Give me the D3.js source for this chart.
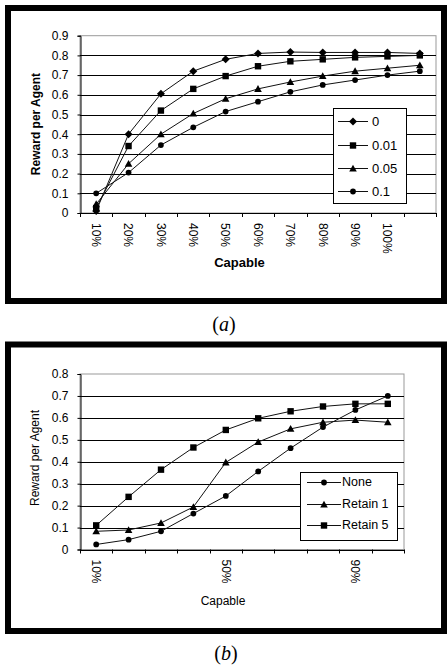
<!DOCTYPE html>
<html>
<head>
<meta charset="utf-8">
<script src="https://cdn.jsdelivr.net/npm/d3@7"></script>
<style>
  body { margin: 0; background: #fff; }
  svg { display: block; font-family: "Liberation Sans", Arial, sans-serif; }
</style>
</head>
<body>
<div id="chart"></div>
<script>
// DATA
// chart (a): reward per agent vs capable, by noise level
const capA = ["10%", "20%", "30%", "40%", "50%", "60%", "70%", "80%", "90%", "100%", ""];
const namesA = ["0", "0.01", "0.05", "0.1"];
const a0   = [0.01, 0.40, 0.605, 0.72, 0.78, 0.81, 0.817, 0.815, 0.815, 0.815, 0.81];
const a001 = [0.025, 0.34, 0.52, 0.63, 0.695, 0.745, 0.77, 0.78, 0.79, 0.795, 0.80];
const a005 = [0.045, 0.25, 0.40, 0.505, 0.58, 0.63, 0.665, 0.695, 0.72, 0.735, 0.75];
const a01  = [0.10, 0.205, 0.345, 0.435, 0.515, 0.565, 0.615, 0.65, 0.675, 0.70, 0.72];
const yTicksA = [0, 0.1, 0.2, 0.3, 0.4, 0.5, 0.6, 0.7, 0.8, 0.9];

// chart (b): reward per agent vs capable, by retention
const capB = ["10%", "20%", "30%", "40%", "50%", "60%", "70%", "80%", "90%", "100%"];
const namesB = ["None", "Retain 1", "Retain 5"];
const bNone = [0.023, 0.045, 0.083, 0.164, 0.244, 0.356, 0.462, 0.558, 0.636, 0.70];
const bRet1 = [0.083, 0.089, 0.121, 0.194, 0.397, 0.49, 0.55, 0.58, 0.59, 0.58];
const bRet5 = [0.11, 0.24, 0.364, 0.465, 0.545, 0.598, 0.63, 0.652, 0.664, 0.664];
const yTicksB = [0, 0.1, 0.2, 0.3, 0.4, 0.5, 0.6, 0.7, 0.8];

// marker shapes
const markers = {
  diamond: "M0,-4L4,0L0,4L-4,0Z",
  square: "M-3.2,-3.2H3.2V3.2H-3.2Z",
  triangle: "M0,-3.8L3.8,3L-3.8,3Z",
  circle: d3.symbol(d3.symbolCircle, 26)()
};

const svg = d3.select("#chart").append("svg")
  .attr("width", 447)
  .attr("height", 668);

svg.append("rect").attr("width", 447).attr("height", 668).attr("fill", "#fff");

function drawChart(cfg) {
  const g = svg.append("g");

  // thick black frame
  g.append("rect")
    .attr("x", cfg.frame[0]).attr("y", cfg.frame[1])
    .attr("width", cfg.frame[2]).attr("height", cfg.frame[3])
    .attr("fill", "none").attr("stroke", "#000").attr("stroke-width", 6);

  const x = d3.scaleBand()
    .domain(d3.range(cfg.cats.length))
    .range([cfg.left, cfg.right])
    .padding(0);

  const y = d3.scaleLinear()
    .domain([0, d3.max(cfg.yTicks)])
    .range([cfg.bottom, cfg.top]);

  // plot border
  g.append("rect")
    .attr("x", cfg.left).attr("y", cfg.top)
    .attr("width", cfg.right - cfg.left).attr("height", cfg.bottom - cfg.top)
    .attr("fill", "none").attr("stroke", "#999").attr("stroke-width", 1);

  // gridlines
  g.selectAll(".grid")
    .data(cfg.yTicks.filter(d => d > 0 && d < d3.max(cfg.yTicks)))
    .join("line")
    .attr("x1", cfg.left).attr("x2", cfg.right)
    .attr("y1", d => Math.round(y(d)) + 0.5).attr("y2", d => Math.round(y(d)) + 0.5)
    .attr("stroke", "#000");

  // y axis
  const yAxis = d3.axisLeft(y)
    .tickValues(cfg.yTicks)
    .tickSize(3)
    .tickPadding(9)
    .tickFormat(d => d === 0 ? "0" : d3.format(".1f")(d));
  const ya = g.append("g")
    .attr("transform", `translate(${cfg.left + 0.5},0)`)
    .call(yAxis);
  ya.select(".domain").attr("stroke", "#000");
  ya.selectAll("text").attr("font-size", 12).attr("fill", "#000")
    .attr("font-family", "Liberation Sans, Arial, sans-serif");

  // x axis line + ticks at band edges
  g.append("line")
    .attr("x1", cfg.left).attr("x2", cfg.right)
    .attr("y1", Math.round(cfg.bottom) + 0.5).attr("y2", Math.round(cfg.bottom) + 0.5)
    .attr("stroke", "#000");
  const edges = d3.range(cfg.cats.length + 1).map(i => cfg.left + i * x.step());
  g.selectAll(".xtick")
    .data(edges)
    .join("line")
    .attr("x1", d => Math.round(d) + 0.5).attr("x2", d => Math.round(d) + 0.5)
    .attr("y1", cfg.bottom).attr("y2", cfg.bottom + 4)
    .attr("stroke", "#000");

  // x labels, rotated
  g.selectAll(".xlab")
    .data(cfg.cats.map((c, i) => ({ c, i })).filter(d => d.i % cfg.labelEvery === 0 && d.c !== ""))
    .join("text")
    .attr("transform", d => `translate(${x(d.i) + x.bandwidth() / 2},${cfg.bottom + 10}) rotate(90)`)
    .attr("dy", "0.35em")
    .attr("font-size", 12)
    .text(d => d.c);

  // axis titles
  g.append("text")
    .attr("transform", `translate(${cfg.yTitle[0]},${cfg.yTitle[1]}) rotate(-90)`)
    .attr("text-anchor", "middle")
    .attr("dy", "0.35em")
    .attr("font-size", 12)
    .attr("font-weight", cfg.bold ? "bold" : "normal")
    .text("Reward per Agent");

  g.append("text")
    .attr("x", cfg.xTitle[0]).attr("y", cfg.xTitle[1])
    .attr("text-anchor", "middle")
    .attr("font-size", cfg.bold ? 13 : 12)
    .attr("font-weight", cfg.bold ? "bold" : "normal")
    .text("Capable");

  // series lines + markers
  const line = d3.line()
    .x((d, i) => x(i) + x.bandwidth() / 2)
    .y(d => y(d));

  cfg.series.forEach(s => {
    g.append("path")
      .datum(s.values)
      .attr("d", line)
      .attr("fill", "none")
      .attr("stroke", "#111")
      .attr("stroke-width", 1);
    g.selectAll(null)
      .data(s.values)
      .join("path")
      .attr("d", markers[s.marker])
      .attr("transform", (d, i) => `translate(${x(i) + x.bandwidth() / 2},${y(d)})`)
      .attr("fill", "#000");
  });

  // legend
  const L = cfg.legend;
  g.append("rect")
    .attr("x", L.x + 0.5).attr("y", L.y + 0.5)
    .attr("width", L.w).attr("height", L.h)
    .attr("fill", "#fff").attr("stroke", "#000");
  cfg.series.forEach((s, i) => {
    const ly = L.rows[i];
    g.append("line")
      .attr("x1", L.lineX[0]).attr("x2", L.lineX[1])
      .attr("y1", ly + 0.5).attr("y2", ly + 0.5)
      .attr("stroke", "#111");
    g.append("path")
      .attr("d", markers[s.marker])
      .attr("transform", `translate(${(L.lineX[0] + L.lineX[1]) / 2},${ly + 0.5})`)
      .attr("fill", "#000");
    g.append("text")
      .attr("x", L.textX).attr("y", ly)
      .attr("dy", "0.35em")
      .attr("font-size", L.fs)
      .text(s.name);
  });

  // caption
  const cap = g.append("text")
    .attr("x", cfg.caption[0]).attr("y", cfg.caption[1])
    .attr("text-anchor", "middle")
    .attr("font-family", "Liberation Serif, DejaVu Serif, serif")
    .attr("font-size", 20);
  cap.append("tspan").text("(");
  cap.append("tspan").attr("font-style", "italic").text(cfg.captionLetter);
  cap.append("tspan").text(")");
}

drawChart({
  frame: [8, 8, 436, 293],
  left: 80, right: 436, top: 35.7, bottom: 213,
  cats: capA, labelEvery: 1, yTicks: yTicksA, bold: true,
  yTitle: [36, 124], xTitle: [239.5, 267],
  series: [
    { name: namesA[0], values: a0, marker: "diamond" },
    { name: namesA[1], values: a001, marker: "square" },
    { name: namesA[2], values: a005, marker: "triangle" },
    { name: namesA[3], values: a01, marker: "circle" }
  ],
  legend: { x: 333, y: 108, w: 73, h: 95, rows: [121, 145, 168, 191], lineX: [338, 368], textX: 372, fs: 13 },
  caption: [224, 331], captionLetter: "a"
});

drawChart({
  frame: [8, 344.5, 436, 286.5],
  left: 80, right: 404, top: 374, bottom: 549.5,
  cats: capB, labelEvery: 4, yTicks: yTicksB, bold: false,
  yTitle: [35, 458], xTitle: [223, 605],
  series: [
    { name: namesB[0], values: bNone, marker: "circle" },
    { name: namesB[1], values: bRet1, marker: "triangle" },
    { name: namesB[2], values: bRet5, marker: "square" }
  ],
  legend: { x: 300, y: 472, w: 97, h: 68, rows: [482, 504, 525], lineX: [307, 341], textX: 342, fs: 12.5 },
  caption: [226, 660], captionLetter: "b"
});
</script>
</body>
</html>
